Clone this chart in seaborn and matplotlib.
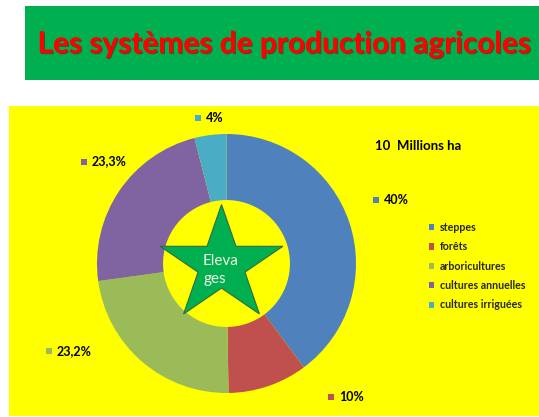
import matplotlib
matplotlib.use("Agg")
import matplotlib.pyplot as plt
import matplotlib.patheffects as pe
from matplotlib.patches import Rectangle, Polygon
import numpy as np
import seaborn as sns

# ---- data ----
categories = ["steppes", "forêts", "arboricultures", "cultures annuelles", "cultures irriguées"]
values = [40, 10, 23.2, 23.3, 4]
title = "Les systèmes de production agricoles"
subtitle = "10  Millions ha"
center_text = ["Eleva", "ges"]

# ---- style ----
sns.set_theme(style="white")
plt.rcParams["font.family"] = ["Lato", "DejaVu Sans"]
colors = sns.color_palette(["#4F81BD", "#C0504D", "#9BBB59", "#8064A2", "#4BACC6"])

W, H = 539, 417
fig = plt.figure(figsize=(W / 100, H / 100), dpi=100)
fig.patch.set_facecolor("white")

# background axes in pixel coordinates
bg = fig.add_axes([0, 0, 1, 1], zorder=0)
bg.set_xlim(0, W)
bg.set_ylim(H, 0)
bg.axis("off")
bg.add_patch(Rectangle((25, 6), W - 25, 74, facecolor="#00B050", edgecolor="none"))
bg.add_patch(Rectangle((9, 105.5), W - 9, 310, facecolor="#FFFF00", edgecolor="none"))
bg.text(284.5, 44, title, color="#FF0000", fontsize=21.5, fontweight="bold",
        ha="center", va="center",
        path_effects=[pe.withSimplePatchShadow(offset=(0.8, -0.8), shadow_rgbFace="#700000", alpha=0.5),
                      pe.Normal()])
bg.text(375, 146, subtitle, fontsize=9.5, fontweight="bold", color="black",
        ha="left", va="center")

# percentage labels (text left x, center y in pixels)
label_pos = [(384, 199.5), (339, 397), (56.5, 351), (91.5, 161.5), (206, 118)]
for v, c, (lx, ly) in zip(values, colors, label_pos):
    bg.scatter([lx - 8], [ly], marker="s", s=22, color=c, linewidths=0)
    bg.text(lx, ly, f"{v:g}%".replace(".", ","), fontsize=9, fontweight="bold",
            color="black", ha="left", va="center")

# donut
R_px = 129.5
cx, cy = 226.5, 263.5
ax = fig.add_axes([(cx - R_px) / W, (H - cy - R_px) / H, 2 * R_px / W, 2 * R_px / H], zorder=1)
wedges, _ = ax.pie(values, colors=colors, startangle=90, counterclock=False, radius=1,
                   wedgeprops=dict(width=0.51, linewidth=0))
ax.set_xlim(-1, 1)
ax.set_ylim(-1, 1)
ax.axis("off")

# star in the hole
sx, sy = (221.5 - cx) / R_px, (cy - 265) / R_px
rx, ry = 64.5 / R_px, 60.5 / R_px
pts = []
for k in range(10):
    ang = np.deg2rad(90 + 36 * k)
    f = 1.0 if k % 2 == 0 else 0.382
    pts.append((sx + f * rx * np.cos(ang), sy + f * ry * np.sin(ang)))
ax.add_patch(Polygon(pts, closed=True, facecolor="#00B050", edgecolor="#2F6A45", linewidth=0.8))
ax.text((203 - cx) / R_px, (cy - 261) / R_px, center_text[0], fontsize=11, color="#F2F5E6",
        ha="left", va="center")
ax.text((203 - cx) / R_px, (cy - 279) / R_px, center_text[1], fontsize=11, color="#F2F5E6",
        ha="left", va="center")

# legend
fig.legend(wedges, categories, loc="upper left", bbox_to_anchor=(429 / W, 1 - 222 / H),
           frameon=False, prop=dict(size=7.7, weight="bold"), handlelength=0.5, handleheight=0.5,
           handletextpad=0.5, labelspacing=0.78, borderpad=0, borderaxespad=0)

fig.savefig("out.png", dpi=100)
